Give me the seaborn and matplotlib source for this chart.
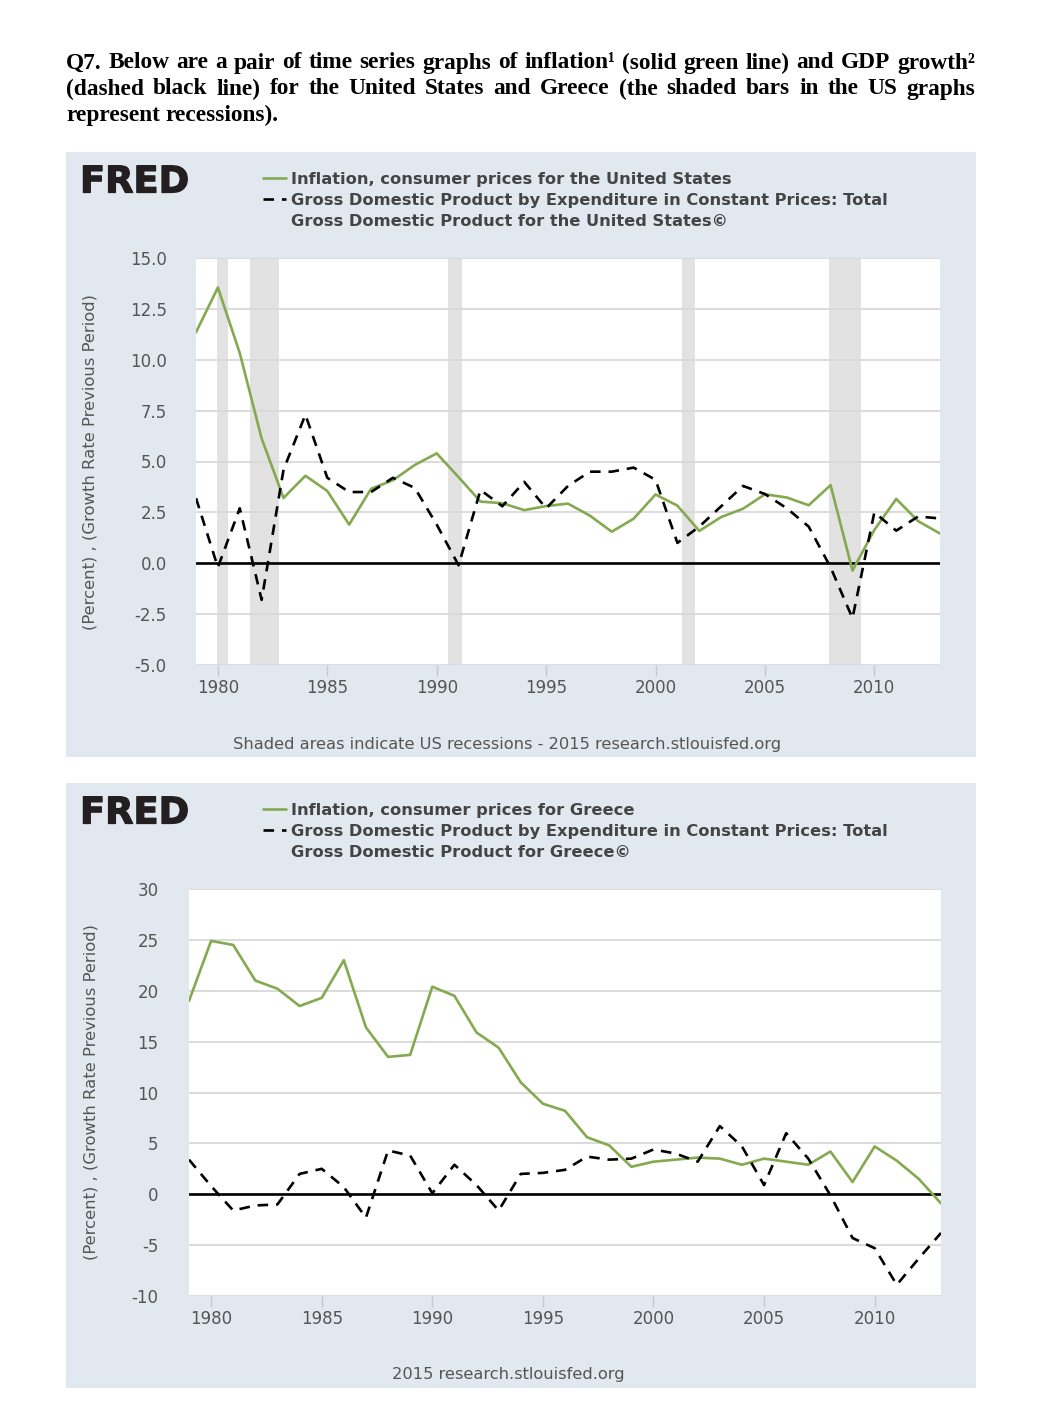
import matplotlib
matplotlib.use("Agg")
import matplotlib.pyplot as plt
import matplotlib.patheffects as pe
import seaborn as sns
import numpy as np
import pandas as pd
from matplotlib.patches import Rectangle
from matplotlib.lines import Line2D

# ---------------- data ----------------
years = list(range(1979, 2014))
us_inflation = [11.35, 13.55, 10.33, 6.13, 3.21, 4.30, 3.55, 1.90, 3.66, 4.08,
                4.83, 5.40, 4.23, 3.03, 2.95, 2.61, 2.81, 2.93, 2.34, 1.55,
                2.19, 3.38, 2.83, 1.59, 2.27, 2.68, 3.39, 3.23, 2.85, 3.84,
                -0.36, 1.64, 3.16, 2.07, 1.46]
us_gdp = [3.2, -0.2, 2.7, -1.8, 4.6, 7.3, 4.2, 3.5, 3.5, 4.2,
          3.7, 1.9, -0.1, 3.6, 2.8, 4.0, 2.7, 3.8, 4.5, 4.5,
          4.7, 4.1, 1.0, 1.8, 2.8, 3.8, 3.4, 2.7, 1.8, -0.2,
          -2.7, 2.5, 1.6, 2.3, 2.2]
gr_inflation = [19.0, 24.9, 24.5, 21.0, 20.2, 18.5, 19.3, 23.0, 16.4, 13.5,
                13.7, 20.4, 19.5, 15.9, 14.4, 11.0, 8.9, 8.2, 5.6, 4.8,
                2.7, 3.2, 3.4, 3.6, 3.5, 2.9, 3.5, 3.2, 2.9, 4.2,
                1.2, 4.7, 3.3, 1.5, -0.9]
gr_gdp = [3.4, 0.8, -1.6, -1.1, -1.0, 2.0, 2.5, 0.7, -2.3, 4.3,
          3.8, 0.1, 2.9, 0.9, -1.6, 2.0, 2.1, 2.4, 3.7, 3.4,
          3.5, 4.4, 4.0, 3.2, 6.7, 4.7, 0.9, 6.0, 3.5, -0.1,
          -4.3, -5.3, -8.9, -6.3, -3.8]
recession_start = [1979.95, 1981.45, 1990.5, 2001.2, 2007.95]
recession_end = [1980.45, 1982.8, 1991.15, 2001.8, 2009.4]

us_yticks = [-5.0, -2.5, 0.0, 2.5, 5.0, 7.5, 10.0, 12.5, 15.0]
gr_yticks = [-10, -5, 0, 5, 10, 15, 20, 25, 30]
xticks = [1980, 1985, 1990, 1995, 2000, 2005, 2010]

us_labels = ["Inflation, consumer prices for the United States",
             "Gross Domestic Product by Expenditure in Constant Prices: Total",
             "Gross Domestic Product for the United States\u00a9"]
gr_labels = ["Inflation, consumer prices for Greece",
             "Gross Domestic Product by Expenditure in Constant Prices: Total",
             "Gross Domestic Product for Greece\u00a9"]

title_lines = [
    "Q7. Below are a pair of time series graphs of inflation\u00b9 (solid green line) and GDP growth\u00b2",
    "(dashed black line) for the United States and Greece (the shaded bars in the US graphs",
    "represent recessions).",
]

# ---------------- style ----------------
sns.set_theme(style="white")
plt.rcParams["font.family"] = ["DejaVu Sans"]

W, H = 1048, 1408
fig = plt.figure(figsize=(W / 100, H / 100), dpi=100)
fig.patch.set_facecolor("white")

PANEL = "#e1e8ef"
GREEN = "#84a94f"
TICKC = "#555555"


def fx(px):
    return px / W


def fy(py):
    return 1 - py / H


# panels
for top in (152, 783):
    fig.patches.append(Rectangle((fx(66), fy(top + 605)), fx(910), 605 / H,
                                 transform=fig.transFigure, facecolor=PANEL,
                                 edgecolor="none", zorder=-5))


def make_panel(off, left, right, yticks, yfmt, infl, gdp, labels, ypad, recess):
    ax = fig.add_axes([fx(left), fy(665 + off), fx(right - left), 407 / H])
    ax.set_facecolor("white")
    df = pd.DataFrame({"year": years, "infl": infl, "gdp": gdp})
    if recess:
        for s, e in zip(recession_start, recession_end):
            ax.axvspan(s, e, color="#e2e2e2", lw=0, zorder=0.5)
    for yv in yticks:
        ax.axhline(yv, color="#d9d9d9", lw=1.3, zorder=0.6)
    ax.axhline(0, color="black", lw=1.9, zorder=2)
    sns.lineplot(data=df, x="year", y="infl", ax=ax, color=GREEN, lw=1.9,
                 zorder=3, legend=False)
    sns.lineplot(data=df, x="year", y="gdp", ax=ax, color="black", lw=1.9,
                 linestyle=(0, (4, 3)), zorder=4, legend=False)
    ax.set_xlim(1979, 2013)
    ax.set_ylim(yticks[0], yticks[-1])
    ax.set_yticks(yticks)
    ax.set_yticklabels([yfmt.format(v) for v in yticks])
    ax.set_xticks(xticks)
    ax.set_xticklabels([str(v) for v in xticks])
    ax.tick_params(axis="y", length=0, pad=ypad, labelsize=12, labelcolor=TICKC)
    ax.tick_params(axis="x", length=8, width=1, color="#c8c8c8", direction="out",
                   pad=2, labelsize=12, labelcolor=TICKC, bottom=True)
    for sp in ax.spines.values():
        sp.set_visible(False)
    ax.set_xlabel("")
    ax.set_ylabel("(Percent) , (Growth Rate Previous Period)", fontsize=11.8,
                  color=TICKC)
    ax.yaxis.set_label_coords((98 - left) / (right - left), 0.5)
    # legend
    data_lines = [l for l in ax.get_lines() if len(l.get_xdata()) == len(years)]
    blank = Line2D([], [], color="none")
    leg = fig.legend(handles=[data_lines[0], data_lines[1], blank], labels=labels,
                     loc="upper left",
                     bbox_to_anchor=(fx(263), fy(172 + off)), frameon=False,
                     handlelength=1.4, handletextpad=0.35, borderpad=0,
                     borderaxespad=0, labelspacing=0.36,
                     prop={"weight": "bold", "size": 11.7})
    for t in leg.get_texts():
        t.set_color("#444444")
    # FRED wordmark
    fig.text(fx(80), fy(182 + off), "FRED", fontsize=26.5, fontweight="heavy",
             color="#231f20", va="center", ha="left",
             path_effects=[pe.withStroke(linewidth=0.9, foreground="#231f20")])
    return ax


ax1 = make_panel(0, 196, 940, us_yticks, "{:.1f}", us_inflation, us_gdp,
                 us_labels, 21, True)
ax2 = make_panel(631, 189, 941, gr_yticks, "{:d}", gr_inflation, gr_gdp,
                 gr_labels, 22, False)

fig.text(fx(507), fy(744), "Shaded areas indicate US recessions - 2015 research.stlouisfed.org",
         fontsize=11.7, color=TICKC, ha="center", va="center")
fig.text(fx(508), fy(1375), "2015 research.stlouisfed.org",
         fontsize=11.7, color=TICKC, ha="center", va="center")

# ---------------- justified title ----------------
renderer = fig.canvas.get_renderer()
tfont = dict(family="Liberation Serif", weight="bold", size=16.8, color="black")
x0, x1 = 66, 975
line_y = [63, 89, 115]
for i, line in enumerate(title_lines):
    words = line.split(" ")
    texts = [fig.text(0, fy(line_y[i]), w, va="center", ha="left", **tfont) for w in words]
    widths = [t.get_window_extent(renderer).width for t in texts]
    if i < 2:
        gap = (x1 - x0 - sum(widths)) / (len(words) - 1)
    else:
        sp = fig.text(0, 0, "a a", **tfont)
        sp2 = fig.text(0, 0, "aa", **tfont)
        gap = sp.get_window_extent(renderer).width - sp2.get_window_extent(renderer).width
        sp.remove()
        sp2.remove()
    x = x0
    for t, w in zip(texts, widths):
        t.set_x(fx(x))
        x += w + gap

fig.savefig("out.png", dpi=100, facecolor="white")
